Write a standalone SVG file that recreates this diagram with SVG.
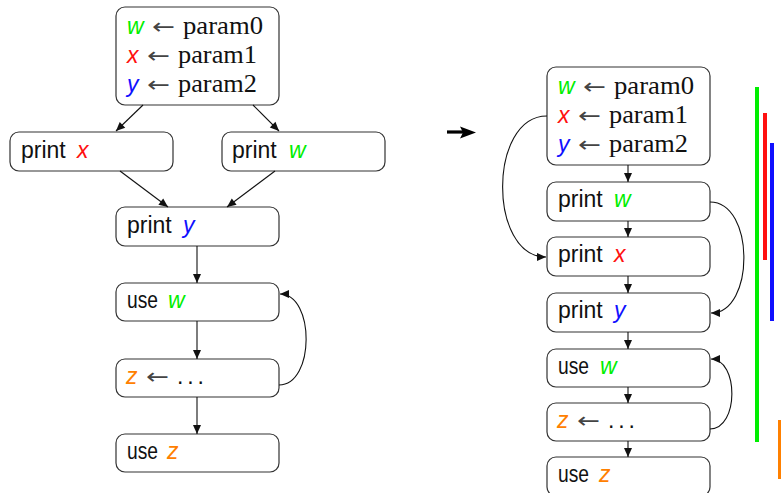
<svg xmlns="http://www.w3.org/2000/svg" width="781" height="493" viewBox="0 0 781 493">
<defs>
<style>
.box{fill:#fff;stroke:#333;stroke-width:1.2}
.t{font-family:"Liberation Sans",Arial,sans-serif;font-size:23px;fill:#111}
.s{font-family:"Liberation Serif","Times New Roman",serif;font-size:25px;fill:#111}
.ar{font-family:"DejaVu Sans",sans-serif;font-size:22px;fill:#444}
.v{font-family:"Liberation Sans",Arial,sans-serif;font-size:23px;font-style:italic}
.w{fill:#00ee00}.x{fill:#ff1010}.y{fill:#1010ff}.z{fill:#ff8000}
.e{fill:none;stroke:#111;stroke-width:1.1;marker-end:url(#ah)}
</style>
<marker id="ah" markerUnits="userSpaceOnUse" markerWidth="12" markerHeight="10" refX="10" refY="4.5" orient="auto">
<path d="M1,0.5 L10,4.5 L1,8.5 Z" fill="#111"/>
</marker>
</defs>

<g id="left-top">
<rect class="box" x="116" y="7" width="163" height="98" rx="9"/>
<text class="v w" x="127" y="34">w</text><text class="ar" x="152" y="34" textLength="23" lengthAdjust="spacingAndGlyphs">←</text><text class="s" x="183" y="34" textLength="80" lengthAdjust="spacingAndGlyphs">param0</text>
<text class="v x" x="127" y="63">x</text><text class="ar" x="147" y="63" textLength="23" lengthAdjust="spacingAndGlyphs">←</text><text class="s" x="178" y="63" textLength="79" lengthAdjust="spacingAndGlyphs">param1</text>
<text class="v y" x="127" y="92">y</text><text class="ar" x="147" y="92" textLength="23" lengthAdjust="spacingAndGlyphs">←</text><text class="s" x="178" y="92" textLength="79" lengthAdjust="spacingAndGlyphs">param2</text>
</g>
<g id="left-print-x">
<rect class="box" x="10" y="132" width="163" height="39" rx="9"/>
<text class="t" x="21" y="158">print</text><text class="v x" x="77" y="158">x</text>
</g>
<g id="left-print-w">
<rect class="box" x="222" y="132" width="163" height="39" rx="9"/>
<text class="t" x="232" y="158">print</text><text class="v w" x="289" y="158">w</text>
</g>
<g id="left-print-y">
<rect class="box" x="116" y="207" width="163" height="39" rx="9"/>
<text class="t" x="127" y="233">print</text><text class="v y" x="183" y="233">y</text>
</g>
<g id="left-use-w">
<rect class="box" x="116" y="283" width="163" height="38" rx="9"/>
<text class="t" x="127" y="308" textLength="31" lengthAdjust="spacingAndGlyphs">use</text><text class="v w" x="168" y="308">w</text>
</g>
<g id="left-z">
<rect class="box" x="116" y="359" width="163" height="38" rx="9"/>
<text class="v z" x="126" y="384">z</text><text class="ar" x="146" y="384" textLength="23" lengthAdjust="spacingAndGlyphs">←</text><text class="t" x="177" y="384" textLength="27" lengthAdjust="spacing">. . .</text>
</g>
<g id="left-use-z">
<rect class="box" x="116" y="434" width="163" height="38" rx="9"/>
<text class="t" x="127" y="459" textLength="31" lengthAdjust="spacingAndGlyphs">use</text><text class="v z" x="167" y="459">z</text>
</g>

<g id="right-top">
<rect class="box" x="547" y="67" width="163" height="98" rx="9"/>
<text class="v w" x="558" y="94">w</text><text class="ar" x="583" y="94" textLength="23" lengthAdjust="spacingAndGlyphs">←</text><text class="s" x="614" y="94" textLength="80" lengthAdjust="spacingAndGlyphs">param0</text>
<text class="v x" x="558" y="123">x</text><text class="ar" x="578" y="123" textLength="23" lengthAdjust="spacingAndGlyphs">←</text><text class="s" x="609" y="123" textLength="79" lengthAdjust="spacingAndGlyphs">param1</text>
<text class="v y" x="558" y="152">y</text><text class="ar" x="578" y="152" textLength="23" lengthAdjust="spacingAndGlyphs">←</text><text class="s" x="609" y="152" textLength="79" lengthAdjust="spacingAndGlyphs">param2</text>
</g>
<g id="right-print-w">
<rect class="box" x="547" y="182" width="163" height="39" rx="9"/>
<text class="t" x="558" y="207">print</text><text class="v w" x="614" y="207">w</text>
</g>
<g id="right-print-x">
<rect class="box" x="547" y="237" width="163" height="39" rx="9"/>
<text class="t" x="558" y="262">print</text><text class="v x" x="614" y="262">x</text>
</g>
<g id="right-print-y">
<rect class="box" x="547" y="293" width="163" height="39" rx="9"/>
<text class="t" x="558" y="318">print</text><text class="v y" x="614" y="318">y</text>
</g>
<g id="right-use-w">
<rect class="box" x="547" y="349" width="163" height="38" rx="9"/>
<text class="t" x="558" y="374" textLength="31" lengthAdjust="spacingAndGlyphs">use</text><text class="v w" x="600" y="374">w</text>
</g>
<g id="right-z">
<rect class="box" x="547" y="403" width="163" height="38" rx="9"/>
<text class="v z" x="557" y="428">z</text><text class="ar" x="577" y="428" textLength="23" lengthAdjust="spacingAndGlyphs">←</text><text class="t" x="608" y="428" textLength="27" lengthAdjust="spacing">. . .</text>
</g>
<g id="right-use-z">
<rect class="box" x="547" y="457" width="163" height="39" rx="9"/>
<text class="t" x="558" y="482" textLength="31" lengthAdjust="spacingAndGlyphs">use</text><text class="v z" x="599" y="482">z</text>
</g>

<g id="connectors">
<path class="e" d="M143,105 L116,131"/>
<path class="e" d="M253,105 L279,131"/>
<path class="e" d="M120,171 L168,207"/>
<path class="e" d="M275,171 L227,207"/>
<path class="e" d="M197,246 L197,283"/>
<path class="e" d="M197,321 L197,359"/>
<path class="e" d="M197,397 L197,434"/>
<path class="e" d="M279,385 C315,385 315,294 280,294"/>

<path class="e" d="M628,165 L628,182"/>
<path class="e" d="M628,221 L628,237"/>
<path class="e" d="M628,276 L628,293"/>
<path class="e" d="M628,332 L628,349"/>
<path class="e" d="M628,387 L628,403"/>
<path class="e" d="M628,441 L628,457"/>
<path class="e" d="M547,116 C488,116 488,257 546,257"/>
<path class="e" d="M710,202 C755,202 755,313 711,313"/>
<path class="e" d="M710,429 C739,429 739,359 711,359"/>
</g>

<g id="transform-arrow">
<path d="M447,132 L463,132" stroke="#000" stroke-width="3.2"/>
<path d="M460,126.5 L476,132.5 L460,138.5 L463,132.5 Z" fill="#000"/>
</g>

<g id="live-ranges">
<rect x="755" y="87" width="4" height="355" fill="#00ee00"/>
<rect x="763" y="113" width="4" height="147" fill="#ff1010"/>
<rect x="770" y="143" width="4" height="178" fill="#1010ff"/>
<rect x="778" y="420" width="4" height="59" fill="#ff8000"/>
</g>
</svg>
